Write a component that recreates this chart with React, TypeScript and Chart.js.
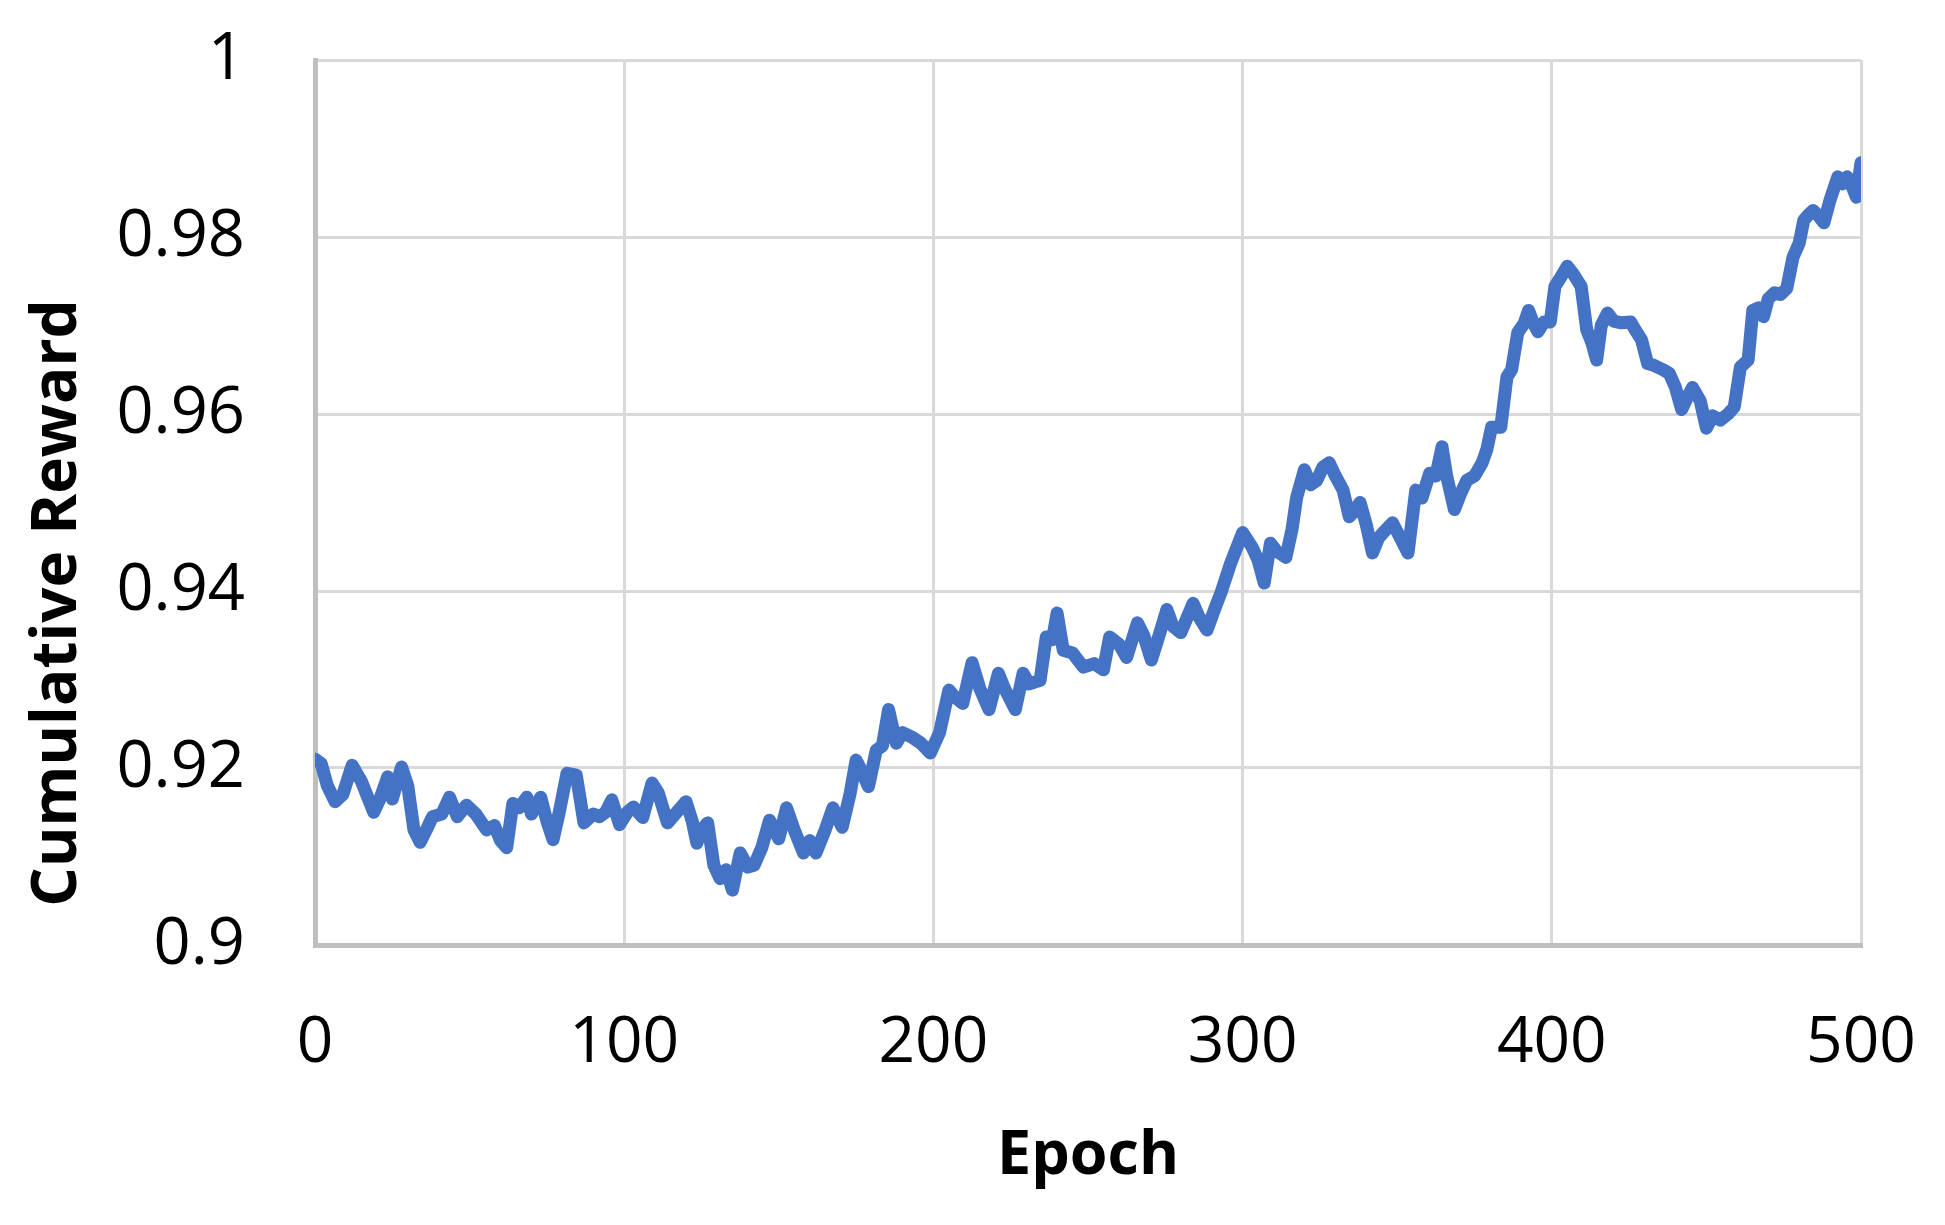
import React, { useEffect, useRef } from "react";
import { Chart, registerables } from "chart.js";

Chart.register(...registerables);

const epochs: number[] = [
  0, 2, 4, 6.5, 9, 12, 15, 19, 21, 23.5, 25, 28, 30, 32, 34, 36, 38, 41, 43.5, 46, 49, 52, 55.5, 58, 60, 62, 64, 66, 68.5, 70,
  73, 75, 77, 79, 81.5, 84.5, 87, 90, 92, 94, 96, 98.5, 101, 103, 106, 109, 111, 114, 117, 120, 122, 123.5, 125, 127, 129, 131,
  133, 135, 137.5, 140, 142, 144.5, 147, 150, 152.5, 155, 158, 160, 162, 165, 167.5, 170.5, 173, 175, 177, 179, 181.5, 183.5,
  185.5, 188, 190, 193, 196, 199, 202, 205, 207, 209.5, 212.5, 215, 218, 221, 223, 226.5, 229, 231, 234.5, 236.5, 238.5, 240,
  242, 245, 248.5, 252, 255, 257, 260, 262.5, 266, 268, 270.5, 273, 275.5, 277.5, 280, 284, 286, 288.5, 291, 293, 296, 300,
  303, 305, 307, 309, 311, 314, 316, 317.5, 320, 322, 324, 326, 328, 330, 332.5, 334.5, 336, 338, 340, 342, 344, 345.5, 348.5,
  351, 353.5, 356, 358, 360.5, 362.5, 364.5, 366, 368.5, 370.5, 372.5, 375, 377.5, 379, 380.5, 383.5, 385.5, 387, 389, 391,
  392.5, 394, 395.5, 397.5, 399.5, 401, 403, 405, 407, 409.5, 411.3, 413, 414.5, 416, 418, 420, 422.5, 425.5, 427, 429, 431,
  433, 436, 438, 440, 442, 444, 445.5, 448, 450, 452, 454.5, 457, 459, 461, 463.5, 465, 467, 468.5, 470, 472, 474, 476, 478,
  480, 481.5, 483, 484.5, 486, 488, 490, 492.5, 494, 495.5, 497, 498.5, 500,
];

const rewards: number[] = [
  0.921, 0.9205, 0.918, 0.9162, 0.917, 0.9203, 0.9185, 0.915, 0.9165, 0.919, 0.9165, 0.9201, 0.918, 0.913, 0.9116, 0.913,
  0.9145, 0.9148, 0.9167, 0.9145, 0.9158, 0.9148, 0.913, 0.9135, 0.9118, 0.911, 0.916, 0.9155, 0.9167, 0.9148, 0.9167, 0.914,
  0.9119, 0.915, 0.9194, 0.9192, 0.9138, 0.9148, 0.9145, 0.915, 0.9164, 0.9136, 0.915, 0.9156, 0.9144, 0.9183, 0.9172, 0.9138,
  0.915, 0.9162, 0.914, 0.9115, 0.913, 0.9138, 0.909, 0.9075, 0.9085, 0.9062, 0.9104, 0.9088, 0.909, 0.911, 0.9141, 0.912,
  0.9155, 0.913, 0.9104, 0.9118, 0.9104, 0.913, 0.9155, 0.9133, 0.917, 0.9209, 0.9195, 0.9179, 0.922, 0.9225, 0.9266, 0.9228,
  0.924, 0.9235, 0.9228, 0.9217, 0.924, 0.9288, 0.928, 0.9273, 0.9319, 0.929, 0.9266, 0.9307, 0.929, 0.9266, 0.9307, 0.9295,
  0.9299, 0.9348, 0.9345, 0.9375, 0.9333, 0.933, 0.9314, 0.9318, 0.9311, 0.9348, 0.934, 0.9325, 0.9364, 0.935, 0.9322, 0.935,
  0.9379, 0.936, 0.9353, 0.9386, 0.937, 0.9356, 0.938, 0.9398, 0.943, 0.9466, 0.945, 0.9435, 0.9409, 0.9454, 0.9445, 0.9438,
  0.947, 0.9506, 0.9537, 0.952, 0.9525, 0.954, 0.9545, 0.953, 0.9514, 0.9484, 0.949, 0.95, 0.9475, 0.9443, 0.946, 0.9466,
  0.9477, 0.946, 0.9443, 0.9514, 0.9505, 0.9533, 0.953, 0.9563, 0.953, 0.9492, 0.951, 0.9525, 0.953, 0.9545, 0.956, 0.9585,
  0.9585, 0.9642, 0.965, 0.9692, 0.9702, 0.9717, 0.9703, 0.9693, 0.9704, 0.9704, 0.9744, 0.9755, 0.9767, 0.9758, 0.9744,
  0.9695, 0.968, 0.9661, 0.97, 0.9714, 0.9705, 0.9703, 0.9704, 0.9695, 0.9684, 0.9657, 0.9655, 0.965, 0.9646, 0.963, 0.9605,
  0.962, 0.963, 0.9615, 0.9584, 0.9598, 0.9593, 0.96, 0.9608, 0.9653, 0.9661, 0.9717, 0.972, 0.971, 0.973, 0.9737, 0.9735,
  0.9742, 0.9777, 0.9793, 0.9819, 0.9825, 0.983, 0.9825, 0.9816, 0.9842, 0.9868, 0.986, 0.9868, 0.9858, 0.9845, 0.9884,
];

const xTicks: number[] = [0, 100, 200, 300, 400, 500];
const yTicks: number[] = [0.9, 0.92, 0.94, 0.96, 0.98, 1];
const xTitle = "Epoch";
const yTitle = "Cumulative Reward";

const W = 1945;
const H = 1225;
const FONT = "'Open Sans', 'Noto Sans', sans-serif";

export default function App() {
  const ref = useRef<HTMLCanvasElement | null>(null);

  useEffect(() => {
    const canvas = ref.current;
    if (!canvas) return;

    const titlePlugin = {
      id: "axisTitles",
      afterDraw(chart: any) {
        const ctx = chart.ctx;
        ctx.save();
        ctx.fillStyle = "#000";
        ctx.font = `bold 62px ${FONT}`;
        ctx.textAlign = "center";
        ctx.textBaseline = "middle";
        ctx.translate(58, 603);
        ctx.rotate(-Math.PI / 2);
        ctx.fillText(yTitle, 0, 0);
        ctx.restore();
        ctx.save();
        ctx.fillStyle = "#000";
        ctx.font = `bold 61px ${FONT}`;
        ctx.textAlign = "center";
        ctx.textBaseline = "alphabetic";
        ctx.fillText(xTitle, (chart.chartArea.left + chart.chartArea.right) / 2, 1174);
        ctx.restore();
      },
    };

    const chart = new Chart(canvas, {
      type: "line",
      data: {
        datasets: [
          {
            data: epochs.map((e, i) => ({ x: e, y: rewards[i] })),
            borderColor: "#4472C4",
            backgroundColor: "#4472C4",
            borderWidth: 13,
            pointRadius: 0,
            tension: 0,
            borderJoinStyle: "round",
            borderCapStyle: "round",
            fill: false,
          },
        ],
      },
      options: {
        responsive: false,
        animation: false,
        devicePixelRatio: 1,
        layout: { autoPadding: false, padding: { top: 60, right: 84, left: 0, bottom: 0 } },
        plugins: { legend: { display: false }, tooltip: { enabled: false } },
        scales: {
          x: {
            type: "linear",
            min: 0,
            max: 500,
            afterFit: (s: any) => {
              s.height = H - 945;
              s.paddingLeft = 0;
              s.paddingRight = 0;
            },
            afterBuildTicks: (s: any) => {
              s.ticks = xTicks.map((v) => ({ value: v }));
            },
            ticks: {
              color: "#000",
              font: { family: FONT, size: 64 },
              padding: 60,
              maxRotation: 0,
              callback: (v: any) => String(v),
            },
            grid: { color: "#d9d9d9", lineWidth: 3, drawTicks: false },
            border: { color: "#bfbfbf", width: 5 },
          },
          y: {
            type: "linear",
            min: 0.9,
            max: 1,
            afterFit: (s: any) => {
              s.width = 315;
              s.paddingTop = 0;
              s.paddingBottom = 0;
            },
            afterBuildTicks: (s: any) => {
              s.ticks = yTicks.map((v) => ({ value: v }));
            },
            ticks: {
              color: "#000",
              font: { family: FONT, size: 65 },
              padding: 70,
              callback: (v: any) => String(Number(Number(v).toFixed(2))),
            },
            grid: { color: "#d9d9d9", lineWidth: 3, drawTicks: false },
            border: { color: "#bfbfbf", width: 5 },
          },
        },
      },
      plugins: [titlePlugin],
    } as any);

    return () => chart.destroy();
  }, []);

  return (
    <div style={{ position: "fixed", left: 0, top: 0, width: W, height: H, background: "#fff" }}>
      <canvas ref={ref} width={W} height={H} style={{ width: W, height: H, display: "block" }} />
    </div>
  );
}
